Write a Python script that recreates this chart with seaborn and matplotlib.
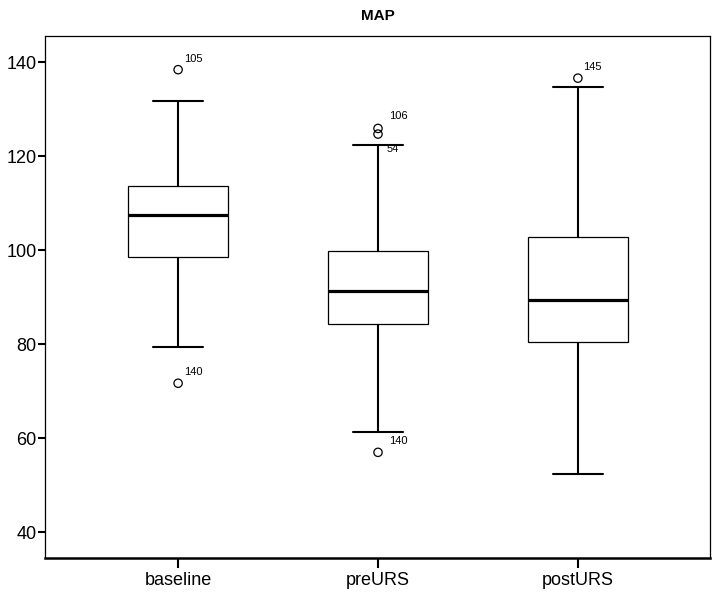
import seaborn as sns
import matplotlib.pyplot as plt

# Box summary
groups = ['baseline', 'preURS', 'postURS']
lower_whisker = [79.4, 61.3, 52.3]
q1 = [98.5, 84.4, 80.5]
median = [107.4, 91.3, 89.4]
q3 = [113.6, 99.8, 102.7]
upper_whisker = [131.7, 122.3, 134.8]

# Outliers with their case labels
outlier_group = ['baseline', 'baseline', 'preURS', 'preURS', 'preURS', 'postURS']
outlier_value = [138.4, 71.7, 125.9, 124.7, 57.0, 136.6]
outlier_label = ['105', '140', '106', '54', '140', '145']
label_offset = [(4, 8), (4, 8), (8, 9), (6, -11), (8, 8), (4, 8)]

# five points per group give exactly these quartiles
rows_group, rows_value = [], []
for i, g in enumerate(groups):
    for v in [lower_whisker[i], q1[i], median[i], q3[i], upper_whisker[i]]:
        rows_group.append(g)
        rows_value.append(v)

sns.set_style('white')
plt.rcParams['font.family'] = ['Liberation Sans', 'DejaVu Sans']
plt.rcParams['text.color'] = 'black'

fig = plt.figure(figsize=(7.17, 5.95), dpi=100)
ax = fig.add_axes([0.063, 0.062, 0.927, 0.877])

sns.boxplot(x=rows_group, y=rows_value, order=groups, whis=(0, 100), width=0.5,
            color='white', linecolor='black', linewidth=0.9, showfliers=False,
            medianprops={'linewidth': 2.3, 'color': 'black'},
            whiskerprops={'linewidth': 1.5, 'color': 'black'},
            capprops={'linewidth': 1.5, 'color': 'black'},
            capwidths=0.25, ax=ax)

sns.scatterplot(x=outlier_group, y=outlier_value, marker='o', s=36,
                fc='none', ec='black', linewidth=0.9, ax=ax, zorder=5)

for g, v, lab, off in zip(outlier_group, outlier_value, outlier_label, label_offset):
    ax.annotate(lab, xy=(groups.index(g), v), xytext=off, textcoords='offset points',
                fontsize=8, ha='left', va='center', color='black')

ax.set_xlim(-0.665, 2.66)
ax.set_ylim(34.5, 145.5)
ax.set_yticks([40, 60, 80, 100, 120, 140])
ax.set_xlabel('')
ax.set_ylabel('')
ax.set_title('MAP', fontsize=11, fontweight='bold', pad=12, color='black')

for s in ax.spines.values():
    s.set_visible(True)
    s.set_color('black')
    s.set_linewidth(0.9)
ax.spines['bottom'].set_linewidth(1.8)
ax.tick_params(axis='both', direction='out', colors='black', labelsize=13,
               bottom=True, left=True)
ax.tick_params(axis='y', length=5, width=1.5, pad=1)
ax.tick_params(axis='x', length=7, width=1.5, pad=3)

fig.savefig('out.png', dpi=100)
